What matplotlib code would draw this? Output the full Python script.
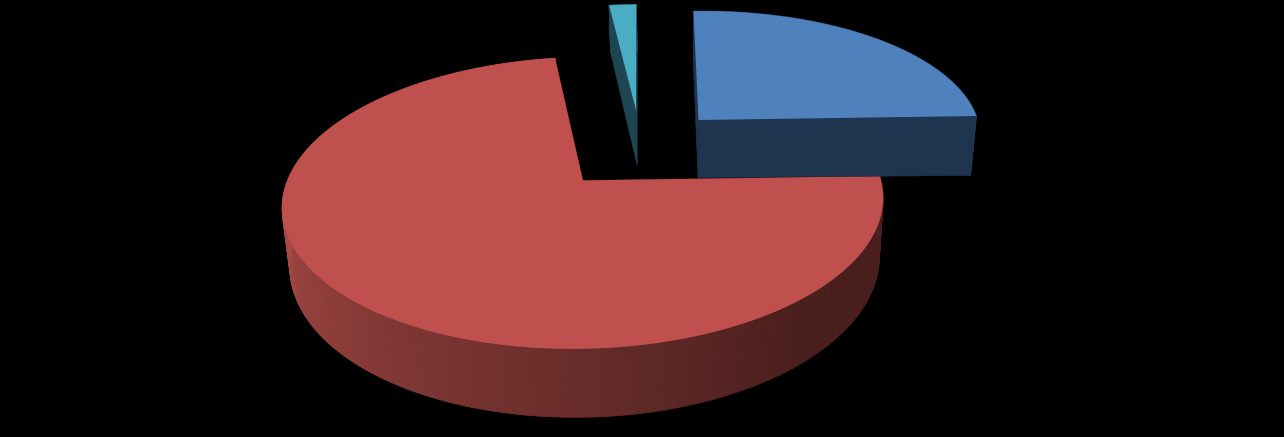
import numpy as np
import matplotlib
matplotlib.use("Agg")
import matplotlib.pyplot as plt
from matplotlib.collections import PolyCollection

# 三个扇区的占比,顺时针从 0 度开始
labels = ["red", "teal", "blue"]
shares = [0.732, 0.018, 0.25]

top_colors = ["#C0504D", "#4BACC6", "#4F81BD"]
side_colors = ["#4A1F1D", "#1E4552", "#1F344F"]
light_side = "#AB4B47"

# 透视参数
A, B = 288, 134
k, m = 0.15, 0.02
cx, cy, x0 = 637, 152, 682
tilt = 0.0145
# 每个扇区分离的偏移 (x, y)、透视中心、厚度
offsets = [(-0.187, -0.20), (-0.003, 0.32), (0.218, 0.24)]
persp_x = [592, 637, 660]
heights = [56, 56, 59]
tilt_z = [0.0, 0.5, 0.5]


def project(X, Y, i, Z=0.0):
    xp = persp_x[i]
    w = 1 + k * Y
    sx = xp + (cx - xp + A * X) / w
    sy = cy - (B * Y - heights[i] * Z) / w - tilt * (1 - tilt_z[i] * Z) * (sx - cx)
    sx = x0 + (sx - x0) / (1 + m * Z)
    return np.column_stack([sx, sy])


def mix(c1, c2, t):
    return np.array(matplotlib.colors.to_rgb(c1)) * (1 - t) + np.array(matplotlib.colors.to_rgb(c2)) * t


fig = plt.figure(figsize=(12.84, 4.37), dpi=100, facecolor="black")
ax = fig.add_axes([0, 0, 1, 1])
ax.set_xlim(0, 1284)
ax.set_ylim(437, 0)
ax.axis("off")

ends = -360 * np.cumsum(shares)
starts = np.concatenate([[0], ends[:-1]])

# 先画后面的:teal, red, blue
z = 1
for i in [1, 0, 2]:
    t1, t2 = starts[i], ends[i]
    ox, oy = offsets[i]
    t = np.radians(np.linspace(t1, t2, 240))
    X = ox + np.cos(t)
    Y = oy + np.sin(t)

    # 两个切面
    for a, b in [(X[0], Y[0]), (X[-1], Y[-1])]:
        q = np.vstack([project(np.array([ox, a]), np.array([oy, b]), i),
                       project(np.array([a, ox]), np.array([b, oy]), i, 1.0)])
        ax.fill(q[:, 0], q[:, 1], color=side_colors[i], lw=0.5, zorder=z)

    # 外壁
    up = project(X, Y, i)
    down = project(X, Y, i, 1.0)
    polys = []
    cols = []
    for j in range(len(t) - 1):
        polys.append([up[j], up[j + 1], down[j + 1], down[j]])
        if i == 0:
            deg = np.degrees(t[j]) % 360
            f = np.clip((deg - 180) / 130, 0, 1) if deg >= 180 else 0
            cols.append(mix(light_side, side_colors[0], f))
        else:
            cols.append(mix(side_colors[i], side_colors[i], 0))
    ax.add_collection(PolyCollection(polys, facecolors=cols, edgecolors=cols, linewidths=0.6, zorder=z))

    # 顶面
    outline = np.vstack([project(np.array([ox]), np.array([oy]), i), up])
    ax.fill(outline[:, 0], outline[:, 1], color=top_colors[i], lw=0, zorder=z + 1)
    z += 2

plt.savefig("out.png", dpi=100, facecolor="black")
